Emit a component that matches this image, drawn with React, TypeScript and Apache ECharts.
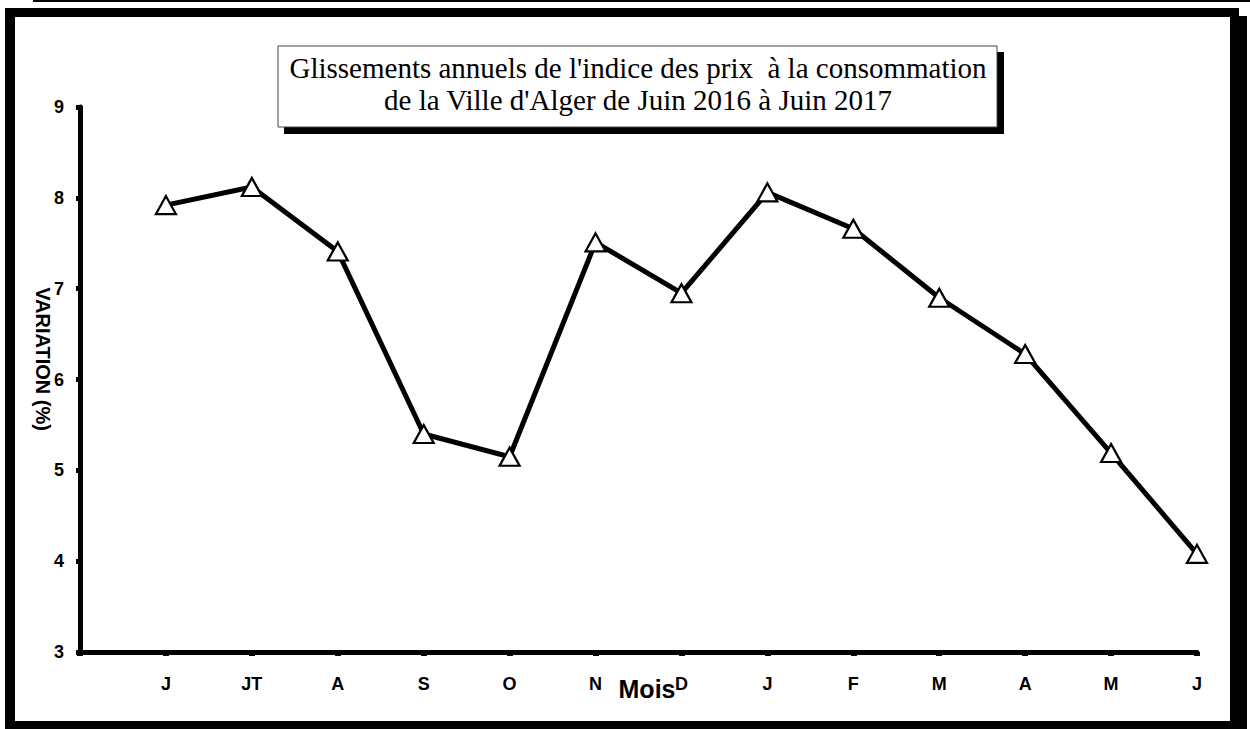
import React, { useEffect, useRef } from "react";
import * as echarts from "echarts";

const months = ["J", "JT", "A", "S", "O", "N", "D", "J", "F", "M", "A", "M", "J"];
const values = [7.92, 8.12, 7.41, 5.4, 5.15, 7.51, 6.95, 8.06, 7.66, 6.9, 6.28, 5.19, 4.08];
const yTicks = [3, 4, 5, 6, 7, 8, 9];
const titleLines = [
  "Glissements annuels de l'indice des prix  à la consommation",
  "de la Ville d'Alger de Juin 2016 à Juin 2017",
];
const xName = "Mois";
const yName = "VARIATION (%)";

export default function App() {
  const ref = useRef<HTMLDivElement>(null);
  useEffect(() => {
    document.body.style.margin = "0";
    const chart = echarts.init(ref.current!, null, { renderer: "svg" });
    const data = values.map((v, i) => [i + 1, v]);
    chart.setOption({
      animation: false,
      backgroundColor: "#fff",
      grid: { left: 80, right: 53, top: 107, bottom: 77, containLabel: false },
      xAxis: {
        type: "value",
        min: 0,
        max: 13,
        interval: 1,
        splitLine: { show: false },
        axisLine: { show: true, lineStyle: { color: "#000", width: 5 } },
        axisTick: { show: true, length: 4, lineStyle: { color: "#000", width: 6 }, inside: false },
        axisLabel: {
          margin: 23,
          color: "#000",
          fontFamily: "Liberation Sans, Arial",
          fontWeight: "bold",
          fontSize: 18,
          showMinLabel: true,
          showMaxLabel: true,
          formatter: (v: number) => (v >= 1 && v <= 13 ? months[Math.round(v) - 1] : ""),
        },
      },
      yAxis: {
        type: "value",
        min: yTicks[0],
        max: yTicks[yTicks.length - 1],
        interval: 1,
        splitLine: { show: false },
        axisLine: { show: true, lineStyle: { color: "#000", width: 5 } },
        axisTick: { show: true, length: 4, lineStyle: { color: "#000", width: 5 } },
        axisLabel: {
          margin: 16,
          color: "#000",
          fontFamily: "Liberation Sans, Arial",
          fontWeight: "bold",
          fontSize: 18,
        },
      },
      series: [
        {
          type: "line",
          data,
          symbol: "triangle",
          symbolSize: [20, 18],
          showAllSymbol: true,
          lineStyle: { color: "#000", width: 5 },
          itemStyle: { color: "#fff", borderColor: "#000", borderWidth: 2.2 },
          z: 3,
        },
      ],
      graphic: [
        { type: "rect", shape: { x: 33, y: 0, width: 1217, height: 2 }, style: { fill: "#000" } },
        { type: "rect", shape: { x: 5, y: 8, width: 1234, height: 9 }, style: { fill: "#000" } },
        { type: "rect", shape: { x: 5, y: 8, width: 10, height: 721 }, style: { fill: "#000" } },
        { type: "rect", shape: { x: 1230, y: 8, width: 9, height: 721 }, style: { fill: "#000" } },
        { type: "rect", shape: { x: 1239, y: 16, width: 8, height: 713 }, style: { fill: "#000" } },
        { type: "rect", shape: { x: 5, y: 721, width: 1242, height: 8 }, style: { fill: "#000" } },
        { type: "rect", shape: { x: 284, y: 52, width: 720, height: 82 }, style: { fill: "#000" } },
        {
          type: "rect",
          shape: { x: 278, y: 46, width: 719, height: 81 },
          style: { fill: "#fff", stroke: "#444", lineWidth: 1 },
        },
        {
          type: "text",
          x: 638,
          y: 68,
          style: {
            text: titleLines[0],
            fill: "#000",
            font: "29px 'Liberation Serif', 'Times New Roman', serif",
            align: "center",
            verticalAlign: "middle",
          },
        },
        {
          type: "text",
          x: 638,
          y: 100,
          style: {
            text: titleLines[1],
            fill: "#000",
            font: "29px 'Liberation Serif', 'Times New Roman', serif",
            align: "center",
            verticalAlign: "middle",
          },
        },
        {
          type: "text",
          x: 647,
          y: 689,
          style: {
            text: xName,
            fill: "#000",
            font: "bold 25px 'Liberation Sans', Arial, sans-serif",
            align: "center",
            verticalAlign: "middle",
          },
        },
        {
          type: "text",
          x: 43,
          y: 359,
          rotation: -Math.PI / 2,
          style: {
            text: yName,
            fill: "#000",
            font: "bold 20px 'Liberation Sans', Arial, sans-serif",
            align: "center",
            verticalAlign: "middle",
          },
        },
      ],
    });
    return () => chart.dispose();
  }, []);
  return <div ref={ref} style={{ width: 1250, height: 729 }} />;
}
